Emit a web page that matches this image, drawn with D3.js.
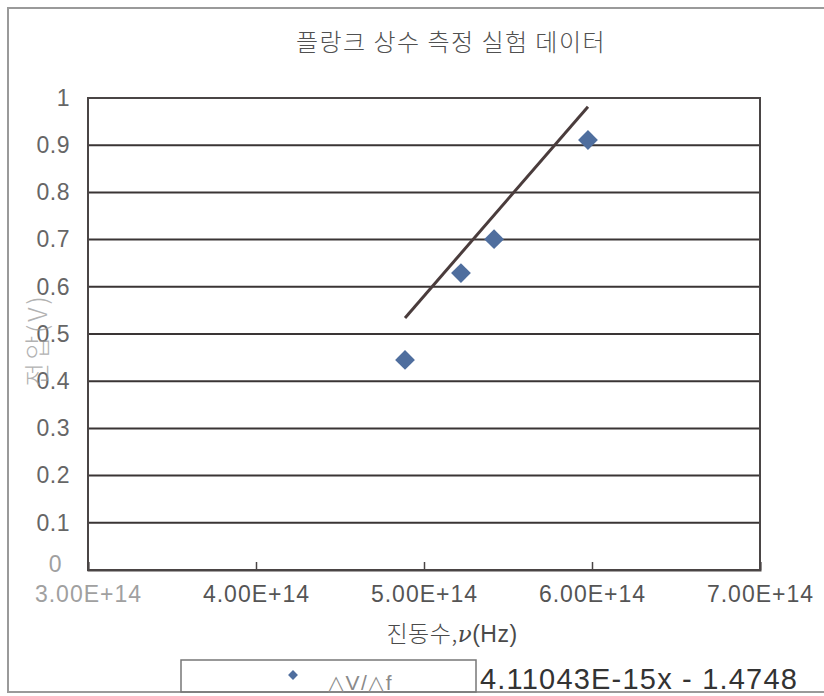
<!DOCTYPE html>
<html>
<head>
<meta charset="utf-8">
<script src="https://cdn.jsdelivr.net/npm/d3@7"></script>
<style>
  html, body { margin: 0; padding: 0; background: #ffffff; }
  svg { display: block; }
  .num { font-family: "Liberation Sans", Arial, sans-serif; }
  .kr { font-family: "Noto Sans CJK KR", "Noto Sans", sans-serif; font-weight: 300; }
</style>
</head>
<body>
<svg id="chart" width="824" height="696"></svg>
<script>
// Measured frequency (Hz) and stopping-voltage (V) pairs
const frequencies = [4.887e14, 5.22e14, 5.417e14, 5.976e14];
const voltages = [0.445, 0.629, 0.701, 0.911];

// Linear trendline reported in the legend
const trendSlope = 4.11043e-15;
const trendIntercept = -1.4748;
const trendLabel = "4.11043E-15x - 1.4748";

const xTicks = [3e14, 4e14, 5e14, 6e14, 7e14];
const xTickLabels = ["3.00E+14", "4.00E+14", "5.00E+14", "6.00E+14", "7.00E+14"];
const yTicks = [0, 0.1, 0.2, 0.3, 0.4, 0.5, 0.6, 0.7, 0.8, 0.9, 1];
const yTickLabels = ["0", "0.1", "0.2", "0.3", "0.4", "0.5", "0.6", "0.7", "0.8", "0.9", "1"];

const titleText = "플랑크 상수 측정 실험 데이터";
const xTitle = "진동수,";
const yTitle = "전압(V)";
const seriesName = "△V/△f";

const svg = d3.select("#chart");
const plot = { left: 88, right: 760, top: 98, bottom: 570 };

const x = d3.scaleLinear().domain([3e14, 7e14]).range([plot.left, plot.right]);
const y = d3.scaleLinear().domain([0, 1]).range([plot.bottom, plot.top]);

// outer chart frame
svg.append("rect")
  .attr("x", 8).attr("y", 8).attr("width", 830).attr("height", 684)
  .attr("fill", "none").attr("stroke", "#9a9a9a").attr("stroke-width", 2);

// title
svg.append("text").attr("class", "kr")
  .attr("x", 451).attr("y", 51)
  .attr("text-anchor", "middle")
  .attr("font-size", 24)
  .attr("letter-spacing", 1.5)
  .attr("fill", "#505050")
  .text(titleText);

// horizontal gridlines
svg.append("g").selectAll("line")
  .data(yTicks.slice(1))
  .join("line")
  .attr("x1", plot.left).attr("x2", plot.right)
  .attr("y1", d => y(d)).attr("y2", d => y(d))
  .attr("stroke", "#3a3535").attr("stroke-width", 2);

// plot area border
svg.append("rect")
  .attr("x", plot.left).attr("y", plot.top)
  .attr("width", plot.right - plot.left).attr("height", plot.bottom - plot.top)
  .attr("fill", "none").attr("stroke", "#4a4545").attr("stroke-width", 2);

// x axis with inward ticks
const xAxis = d3.axisBottom(x)
  .tickValues(xTicks)
  .tickSize(-8)
  .tickFormat((d, i) => xTickLabels[i]);
const gx = svg.append("g")
  .attr("transform", `translate(0,${plot.bottom})`)
  .call(xAxis);
gx.select(".domain").attr("stroke", "#4a4545").attr("stroke-width", 2);
gx.selectAll(".tick line").attr("stroke", "#4a4545").attr("stroke-width", 1.5);
gx.selectAll(".tick text")
  .attr("class", "num")
  .attr("font-size", 23)
  .attr("letter-spacing", 1)
  .attr("fill", (d, i) => i === 0 ? "#a0a0a0" : "#555")
  .attr("y", 16);

// y axis labels
const yAxis = d3.axisLeft(y)
  .tickValues(yTicks)
  .tickSize(0)
  .tickFormat((d, i) => yTickLabels[i]);
const gy = svg.append("g")
  .attr("transform", `translate(${plot.left},0)`)
  .call(yAxis);
gy.select(".domain").remove();
gy.selectAll(".tick text")
  .attr("class", "num")
  .attr("font-size", 23)
  .attr("letter-spacing", 0.5)
  .attr("fill", (d, i) => i === 0 ? "#a0a0a0" : "#666")
  .attr("x", -18);
gy.selectAll(".tick").filter(d => d === 0).select("text").attr("x", -26).attr("dy", "0.05em");

// y axis title
svg.append("text").attr("class", "kr")
  .attr("transform", "translate(47,340) rotate(-90)")
  .attr("text-anchor", "middle")
  .attr("font-size", 26)
  .attr("letter-spacing", 3)
  .attr("fill", "#999")
  .attr("opacity", 0.75)
  .text(yTitle);

// x axis title
const xt = svg.append("text").attr("class", "kr")
  .attr("x", 452).attr("y", 642)
  .attr("text-anchor", "middle")
  .attr("font-size", 23)
  .attr("letter-spacing", 0.5)
  .attr("fill", "#4a4a4a");
xt.append("tspan").text(xTitle);
xt.append("tspan").attr("font-family", "DejaVu Serif, serif").attr("font-style", "italic").text("ν");
xt.append("tspan").attr("font-family", "Liberation Sans, sans-serif").text("(Hz)");

// trendline over the measured range
const xr = d3.extent(frequencies);
svg.append("line")
  .attr("x1", x(xr[0])).attr("y1", y(trendSlope * xr[0] + trendIntercept))
  .attr("x2", x(xr[1])).attr("y2", y(trendSlope * xr[1] + trendIntercept))
  .attr("stroke", "#4a3c3c").attr("stroke-width", 3);

// data markers: squares turned 45 degrees
const markerHalf = 7;
svg.append("g").selectAll("rect")
  .data(frequencies.map((f, i) => [f, voltages[i]]))
  .join("rect")
  .attr("x", -markerHalf).attr("y", -markerHalf)
  .attr("width", markerHalf * 2).attr("height", markerHalf * 2)
  .attr("transform", d => `translate(${x(d[0])},${y(d[1])}) rotate(45)`)
  .attr("fill", "#4f6e9e");

// legend
svg.append("rect")
  .attr("x", 181).attr("y", 660).attr("width", 295).attr("height", 32)
  .attr("fill", "none").attr("stroke", "#777").attr("stroke-width", 1.5);
svg.append("rect")
  .attr("x", -3.5).attr("y", -3.5).attr("width", 7).attr("height", 7)
  .attr("transform", "translate(293,675) rotate(45)")
  .attr("fill", "#4f6e9e");
svg.append("text").attr("class", "num")
  .attr("x", 328).attr("y", 690)
  .attr("font-size", 21)
  .attr("letter-spacing", 1.5)
  .attr("fill", "#8a8a8a")
  .text(seriesName);
svg.append("text").attr("class", "num")
  .attr("x", 480).attr("y", 689)
  .attr("font-size", 29)
  .attr("letter-spacing", 1.2)
  .attr("fill", "#333")
  .text(trendLabel);
</script>
</body>
</html>
